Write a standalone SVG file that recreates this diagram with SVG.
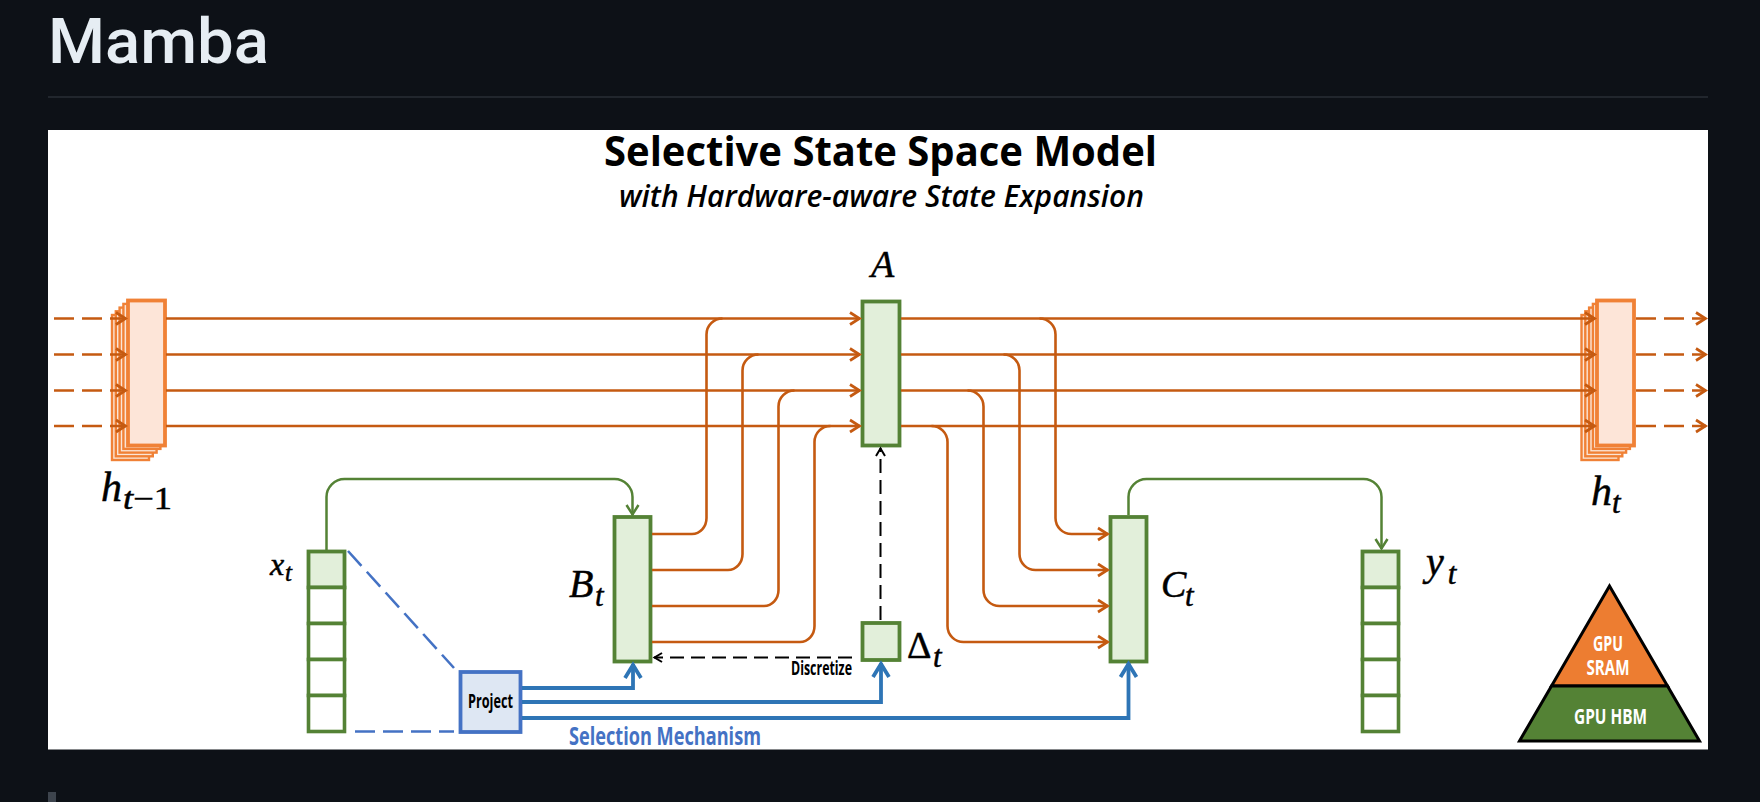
<svg xmlns="http://www.w3.org/2000/svg" width="1760" height="802" viewBox="0 0 1760 802">
<style>
.g{fill:#e2efda;stroke:#548235;stroke-width:3.8}
.w{fill:#fff;stroke:#548235;stroke-width:3.6}
.s{fill:#fbe5d6;stroke:#f08136;stroke-width:2.4}
.f{fill:#fde5d8;stroke:#f08136;stroke-width:3.8}
.o{fill:none;stroke:#c55a11;stroke-width:2.6}
.od{fill:none;stroke:#c55a11;stroke-width:2.6;stroke-dasharray:20 8}
.gl{fill:none;stroke:#548235;stroke-width:2.5}
.b{fill:none;stroke:#2e75b6;stroke-width:3.8}
.bd{fill:none;stroke:#4472c4;stroke-width:2.6;stroke-dasharray:20 8}
.k{fill:none;stroke:#000;stroke-width:2;stroke-dasharray:14 7}
.m{font-family:"Liberation Serif",serif;font-style:italic;fill:#000;stroke:#000;stroke-width:.5}
.c{font-family:"Open Sans","Noto Sans",sans-serif;font-weight:700}
</style>
<defs>
<marker id="ao" markerUnits="userSpaceOnUse" markerWidth="16" markerHeight="16" refX="13" refY="8" orient="auto"><path d="M3 2 L12.500 8 L3 14" fill="none" stroke="#c55a11" stroke-width="2.700"/></marker>
<marker id="ag" markerUnits="userSpaceOnUse" markerWidth="16" markerHeight="16" refX="13" refY="8" orient="auto"><path d="M3 2 L12.500 8 L3 14" fill="none" stroke="#548235" stroke-width="2.500"/></marker>
<marker id="ab" markerUnits="userSpaceOnUse" markerWidth="22" markerHeight="22" refX="18" refY="11" orient="auto"><path d="M4 3 L17 11 L4 19" fill="none" stroke="#2e75b6" stroke-width="3.800"/></marker>
<marker id="ak" markerUnits="userSpaceOnUse" markerWidth="14" markerHeight="14" refX="11" refY="7" orient="auto"><path d="M3 2.500 L10.500 7 L3 11.500" fill="none" stroke="#000" stroke-width="2"/></marker>
</defs>
<rect width="1760" height="802" fill="#0d1117"/>
<text x="48" y="63" font-family="Roboto,'Noto Sans',sans-serif" font-weight="500" font-size="63" fill="#e6edf3" textLength="221" lengthAdjust="spacingAndGlyphs">Mamba</text>
<rect x="48" y="96" width="1660" height="2" fill="#21262d"/>
<rect x="48" y="130" width="1660" height="619.500" fill="#fff"/>
<rect x="48" y="792" width="8" height="10" fill="#3d444d"/>
<text x="880.500" y="166" text-anchor="middle" class="c" font-size="42" textLength="553" lengthAdjust="spacingAndGlyphs">Selective State Space Model</text>
<text x="881.500" y="207" text-anchor="middle" font-family="'Open Sans',sans-serif" font-weight="600" font-style="italic" font-size="31" textLength="525" lengthAdjust="spacingAndGlyphs">with Hardware-aware State Expansion</text>

<g id="h-prev">
<rect class="s" x="112" y="315" width="37" height="145"/><rect class="s" x="115.800" y="311.300" width="37" height="145"/><rect class="s" x="119.600" y="307.600" width="37" height="145"/><rect class="s" x="123.400" y="303.900" width="37" height="145"/><rect class="f" x="128" y="300.500" width="37" height="145"/>
<text class="m" x="101" y="501" font-size="42">h</text><text class="m" x="123" y="509" font-size="31" textLength="49" lengthAdjust="spacingAndGlyphs">t<tspan font-style="normal">−1</tspan></text>
</g>
<g id="h-next">
<rect class="s" x="1581.500" y="315" width="37" height="145"/><rect class="s" x="1585.300" y="311.300" width="37" height="145"/><rect class="s" x="1589.100" y="307.600" width="37" height="145"/><rect class="s" x="1592.900" y="303.900" width="37" height="145"/><rect class="f" x="1597" y="300.500" width="37" height="145"/>
<text class="m" x="1591" y="505" font-size="42">h</text><text class="m" x="1612" y="513" font-size="31">t</text>
</g>
<g id="node-A"><rect class="g" x="862.500" y="301.500" width="37" height="144"/><text class="m" x="871" y="277" font-size="38">A</text></g>
<g id="node-B"><rect class="g" x="614.500" y="517" width="36" height="144.500"/><text class="m" x="569" y="597" font-size="40">B</text><text class="m" x="595" y="606" font-size="31">t</text></g>
<g id="node-C"><rect class="g" x="1110.500" y="517" width="36" height="144.500"/><text class="m" x="1161" y="597" font-size="38">C</text><text class="m" x="1185" y="606" font-size="31">t</text></g>
<g id="node-delta"><rect class="g" x="862.500" y="623" width="37" height="37"/><text x="907" y="658" font-family="'Liberation Serif',serif" font-size="38" stroke="#000" stroke-width=".5">Δ</text><text class="m" x="933" y="667" font-size="31">t</text></g>
<g id="node-x">
<rect class="g" x="308.500" y="551.500" width="36" height="36"/><rect class="w" x="308.500" y="587.500" width="36" height="36"/><rect class="w" x="308.500" y="623.500" width="36" height="36"/><rect class="w" x="308.500" y="659.500" width="36" height="36"/><rect class="w" x="308.500" y="695.500" width="36" height="36"/>
<text class="m" x="270" y="575" font-size="32">x</text><text class="m" x="285" y="581" font-size="25">t</text>
</g>
<g id="node-y">
<rect class="g" x="1362.500" y="551.500" width="36" height="36"/><rect class="w" x="1362.500" y="587.500" width="36" height="36"/><rect class="w" x="1362.500" y="623.500" width="36" height="36"/><rect class="w" x="1362.500" y="659.500" width="36" height="36"/><rect class="w" x="1362.500" y="695.500" width="36" height="36"/>
<text class="m" x="1426" y="575" font-size="40">y<tspan dx="4" dy="9" font-size="31">t</tspan></text>
</g>
<g id="node-project"><rect x="460.500" y="672" width="60" height="60" fill="#dee7f3" stroke="#4472c4" stroke-width="3.800"/><text x="490.500" y="708" text-anchor="middle" class="c" font-size="20" textLength="45" lengthAdjust="spacingAndGlyphs">Project</text></g>
<g id="pyramid">
<path d="M1609.500 586 L1551.500 686 L1667.500 686 Z" fill="#ed7d31" stroke="#000" stroke-width="3"/>
<path d="M1551.500 686 L1667.500 686 L1699.500 741 L1519.500 741 Z" fill="#548235" stroke="#000" stroke-width="3"/>
<text x="1608" y="651" text-anchor="middle" class="c" font-size="22" fill="#fff" textLength="30" lengthAdjust="spacingAndGlyphs">GPU</text>
<text x="1608" y="675" text-anchor="middle" class="c" font-size="22" fill="#fff" textLength="43" lengthAdjust="spacingAndGlyphs">SRAM</text>
<text x="1610.500" y="724" text-anchor="middle" class="c" font-size="22" fill="#fff" textLength="73" lengthAdjust="spacingAndGlyphs">GPU HBM</text>
</g>

<g id="connectors">
<path class="od" d="M54 318.500H126" marker-end="url(#ao)"/><path class="od" d="M54 354.500H126" marker-end="url(#ao)"/><path class="od" d="M54 390.500H126" marker-end="url(#ao)"/><path class="od" d="M54 426H126" marker-end="url(#ao)"/>
<path class="od" d="M1636 318.500H1706" marker-end="url(#ao)"/><path class="od" d="M1636 354.500H1706" marker-end="url(#ao)"/><path class="od" d="M1636 390.500H1706" marker-end="url(#ao)"/><path class="od" d="M1636 426H1706" marker-end="url(#ao)"/>
<path class="o" d="M166 318.500H860" marker-end="url(#ao)"/><path class="o" d="M166 354.500H860" marker-end="url(#ao)"/><path class="o" d="M166 390.500H860" marker-end="url(#ao)"/><path class="o" d="M166 426H860" marker-end="url(#ao)"/>
<path class="o" d="M901 318.500H1595" marker-end="url(#ao)"/><path class="o" d="M901 354.500H1595" marker-end="url(#ao)"/><path class="o" d="M901 390.500H1595" marker-end="url(#ao)"/><path class="o" d="M901 426H1595" marker-end="url(#ao)"/>
<path class="o" d="M652 534H692A14.500 16 0 0 0 706.500 518V334.500A16 16 0 0 1 722.500 318.500"/>
<path class="o" d="M652 570H728A14.500 16 0 0 0 742.500 554V370.500A16 16 0 0 1 758.500 354.500"/>
<path class="o" d="M652 606H764A14.500 16 0 0 0 778.500 590V406.500A16 16 0 0 1 794.500 390.500"/>
<path class="o" d="M652 642H800A14.500 16 0 0 0 814.500 626V442A16 16 0 0 1 830.500 426"/>
<path class="o" d="M1039.500 318.500A16 16 0 0 1 1055.500 334.500V518A16 16 0 0 0 1071.500 534H1108" marker-end="url(#ao)"/>
<path class="o" d="M1003.500 354.500A16 16 0 0 1 1019.500 370.500V554A16 16 0 0 0 1035.500 570H1108" marker-end="url(#ao)"/>
<path class="o" d="M967.500 390.500A16 16 0 0 1 983.500 406.500V590A16 16 0 0 0 999.500 606H1108" marker-end="url(#ao)"/>
<path class="o" d="M931.500 426A16 16 0 0 1 947.500 442V626A16 16 0 0 0 963.500 642H1108" marker-end="url(#ao)"/>
<path class="gl" d="M326.500 550V497A18 18 0 0 1 344.500 479H614.500A18 18 0 0 1 632.500 497V515" marker-end="url(#ag)"/>
<path class="gl" d="M1128.500 515V497A18 18 0 0 1 1146.500 479H1363.500A18 18 0 0 1 1381.500 497V549" marker-end="url(#ag)"/>
<path class="b" d="M522 688H633V664" marker-end="url(#ab)"/>
<path class="b" d="M522 702H881V663" marker-end="url(#ab)"/>
<path class="b" d="M522 718H1128.500V663" marker-end="url(#ab)"/>
<path class="bd" d="M348 551L454 668"/>
<path class="bd" d="M355 731.500H454"/>
<path class="k" d="M880.500 620V448" marker-end="url(#ak)"/>
<path class="k" d="M852 657.500H654" marker-end="url(#ak)"/>
</g>
<text x="791" y="675" class="c" font-size="19" textLength="61" lengthAdjust="spacingAndGlyphs">Discretize</text>
<text x="569" y="745" class="c" font-size="25" fill="#4472c4" textLength="192" lengthAdjust="spacingAndGlyphs">Selection Mechanism</text>
</svg>
